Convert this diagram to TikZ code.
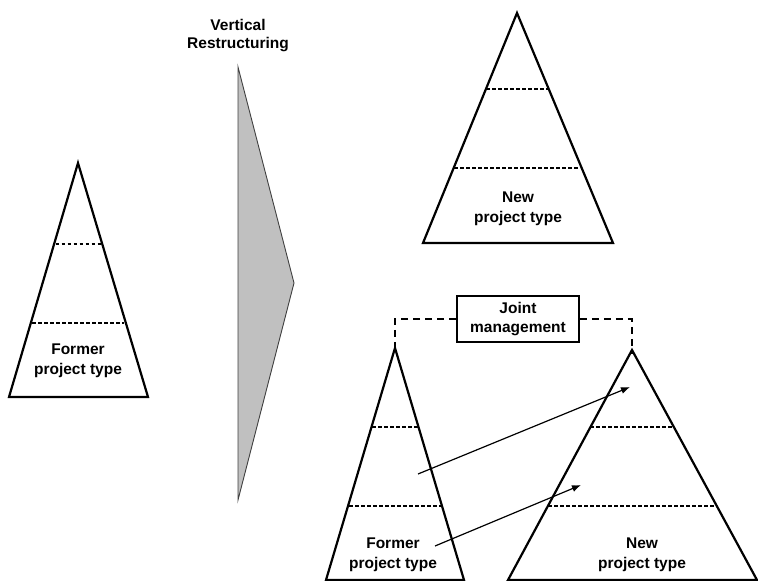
\documentclass[tikz,border=0pt]{standalone}
\usepackage{fontspec}
\setmainfont{Liberation Sans}
\usetikzlibrary{arrows.meta}
\definecolor{wedgefill}{RGB}{192,192,192}
\begin{document}
\begin{tikzpicture}[x=1pt,y=-1pt,
  pyramid/.style={draw=black,line width=2.2pt,line join=miter},
  level/.style={draw=black,line width=1.1pt,dash pattern=on 3.5pt off 2.5pt},
  lbl/.style={font=\fontsize{15.5}{20}\selectfont\bfseries,align=center,inner sep=0pt},
  link/.style={draw=black,line width=2pt,dash pattern=on 7pt off 5pt},
  shift arrow/.style={draw=black,line width=1.2pt,-{Latex[length=9pt,width=7pt]}},
  mgmt/.style={draw=black,line width=1.8pt,minimum width=122pt,minimum height=46pt,
               font=\fontsize{15.5}{19}\selectfont\bfseries,align=center,inner sep=0pt}]
\useasboundingbox (0,0) rectangle (758,581);

% former project pyramid (left)
\coordinate (fA) at (78,163);
\coordinate (fL) at (9,397);
\coordinate (fR) at (148,397);
\draw[pyramid] (fA) -- (fL) -- (fR) -- cycle;
\draw[level] (55.5,244) -- (100.5,244);
\draw[level] (32,323) -- (124,323);
\node[lbl] (fT) at (78,361) {Former\\project type};

% restructuring wedge
\coordinate (wT) at (238,67);
\coordinate (wB) at (238,500);
\coordinate (wR) at (294,283);
\draw[draw=black!75,fill=wedgefill,line width=0.9pt] (wT) -- (wR) -- (wB) -- cycle;
\node[lbl,font=\fontsize{15.5}{18}\selectfont\bfseries] (wLab) at (238,36) {Vertical\\Restructuring};

% new project pyramid (top right)
\coordinate (nA) at (517,13);
\coordinate (nL) at (423,243);
\coordinate (nR) at (613,243);
\draw[pyramid] (nA) -- (nL) -- (nR) -- cycle;
\draw[level] (486,89) -- (548,89);
\draw[level] (454,168) -- (580,168);
\node[lbl] (nT) at (518,209) {New\\project type};

% joint management: former and new side by side
\coordinate (jA) at (395,348);
\coordinate (jL) at (326,580);
\coordinate (jR) at (464,580);
\draw[pyramid] (jA) -- (jL) -- (jR) -- cycle;
\draw[level] (372,427) -- (418,427);
\draw[level] (349,506) -- (441,506);
\node[lbl] (jT) at (393,555) {Former\\project type};

\coordinate (kA) at (632,350);
\coordinate (kL) at (508,580);
\coordinate (kR) at (757,580);
\draw[pyramid] (kA) -- (kL) -- (kR) -- cycle;
\draw[level] (590,427) -- (674,427);
\draw[level] (548,506) -- (717,506);
\node[lbl] (kT) at (642,555) {New\\project type};

\node[mgmt,fill=white] (jm) at (518,319) {Joint\\management};
\draw[link] (jm.west) -| ([yshift=-5pt]jA);
\draw[link] (jm.east) -| ([yshift=-4pt]kA);

% transfer of levels
\coordinate (s1) at (418,474);
\coordinate (e1) at (630,387);
\coordinate (s2) at (435,546);
\coordinate (e2) at (581,485);
\draw[shift arrow] (s1) -- (e1);
\draw[shift arrow] (s2) -- (e2);
\end{tikzpicture}
\end{document}
